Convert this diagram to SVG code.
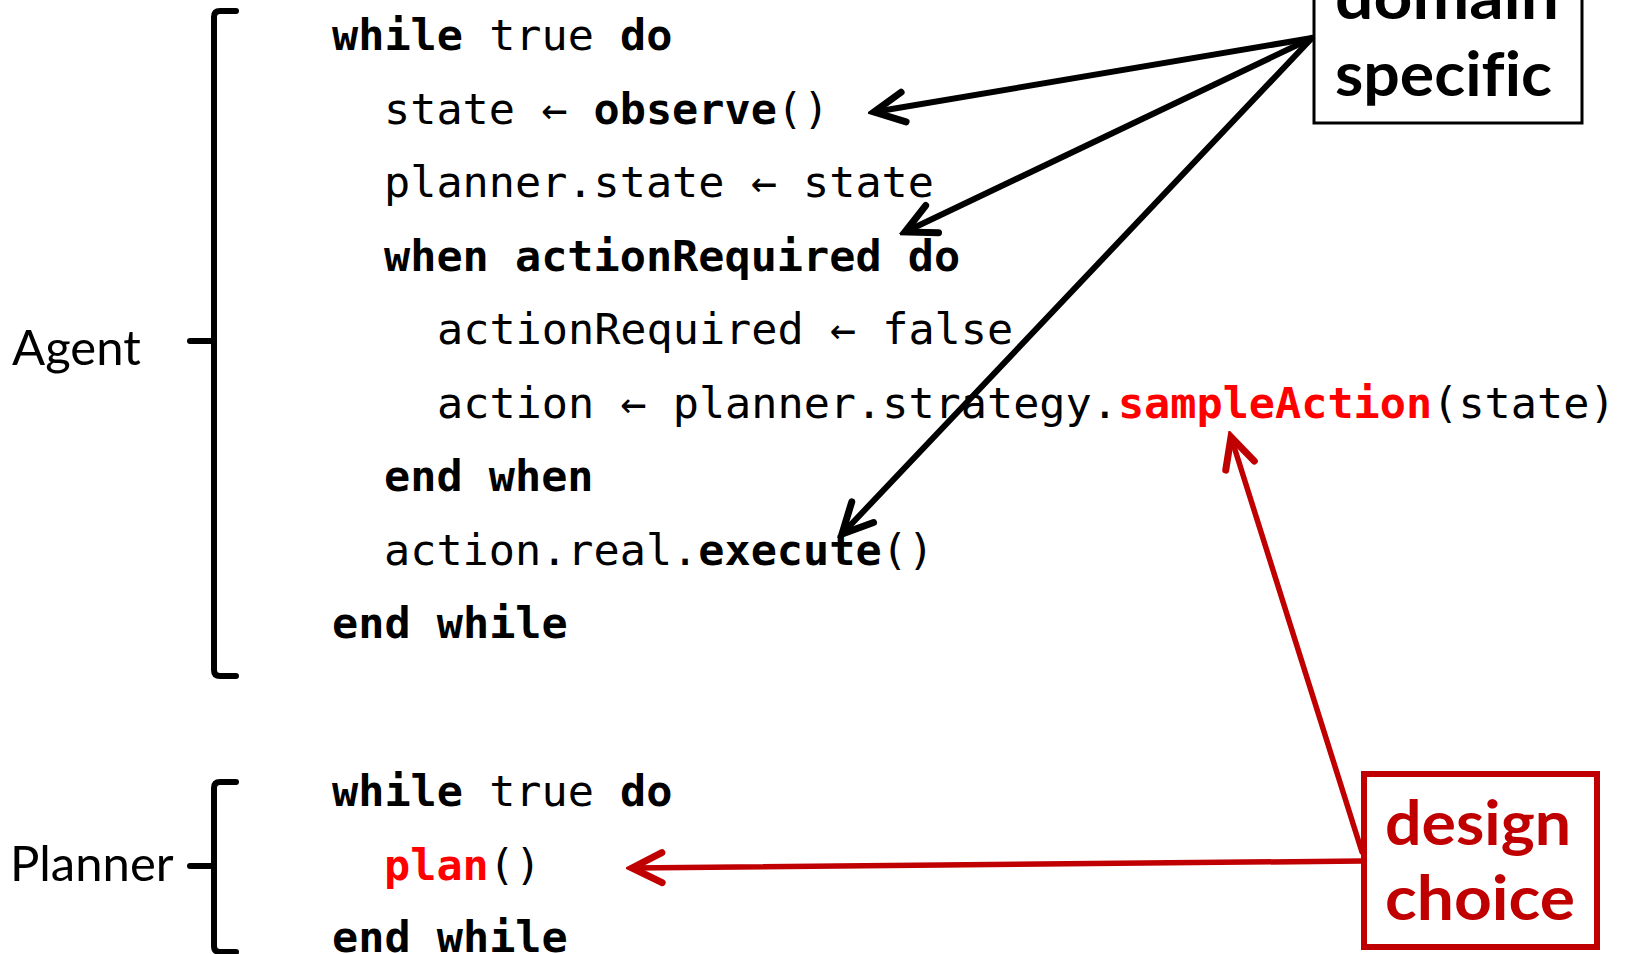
<svg xmlns="http://www.w3.org/2000/svg" width="1635" height="954" viewBox="0 0 1635 954">
  <defs>
    <style>
      .code { font-family: "DejaVu Sans Mono", "Liberation Mono", monospace; font-size: 43.5px; fill: #000; }
      .b { font-weight: bold; }
      .hl { font-weight: bold; fill: #FF0000; }
      .label { font-family: Lato, "Open Sans", "Liberation Sans", sans-serif; font-size: 49px; fill: #000; }
      .note { font-family: Lato, "Open Sans", "Liberation Sans", sans-serif; font-size: 61px; font-weight: bold; font-variant-ligatures: none; }
      .brace { fill: none; stroke: #000; stroke-width: 6; stroke-linecap: round; stroke-linejoin: round; }
      .arrow-k { fill: none; stroke: #000; stroke-width: 6; stroke-linecap: round; }
      .arrow-r { fill: none; stroke: #C00000; stroke-width: 5.5; stroke-linecap: round; }
    </style>
    <marker id="head-k" viewBox="-36 -20 42 40" refX="0" refY="0" markerWidth="42" markerHeight="40" markerUnits="userSpaceOnUse" orient="auto">
      <path d="M -30 -15 L 0 0 L -30 15" fill="none" stroke="#000" stroke-width="7" stroke-linecap="round" stroke-linejoin="miter"/>
    </marker>
    <marker id="head-r" viewBox="-36 -20 42 40" refX="0" refY="0" markerWidth="42" markerHeight="40" markerUnits="userSpaceOnUse" orient="auto">
      <path d="M -30 -15 L 0 0 L -30 15" fill="none" stroke="#C00000" stroke-width="7" stroke-linecap="round" stroke-linejoin="miter"/>
    </marker>
  </defs>

  <rect width="1635" height="954" fill="#fff"/>

  <!-- Agent loop -->
  <g id="agent">
    <text class="label" x="12" y="365">Agent</text>
    <path class="brace" d="M 236 11 L 220 11 Q 214 11 214 17 L 214 670 Q 214 676 220 676 L 236 676"/>
    <path class="brace" d="M 190 341 L 214 341" stroke-width="8"/>
    <text class="code" x="332" y="50"><tspan class="b">while</tspan> true <tspan class="b">do</tspan></text>
    <text class="code" x="384" y="123.6">state ← <tspan class="b">observe</tspan>()</text>
    <text class="code" x="384" y="197">planner.state ← state</text>
    <text class="code b" x="384" y="270.6">when actionRequired do</text>
    <text class="code" x="437" y="344">actionRequired ← false</text>
    <text class="code" x="437" y="417.6">action ← planner.strategy.<tspan class="hl">sampleAction</tspan>(state)</text>
    <text class="code b" x="384" y="491">end when</text>
    <text class="code" x="384" y="564.6">action.real.<tspan class="b">execute</tspan>()</text>
    <text class="code b" x="332" y="638">end while</text>
  </g>

  <!-- Planner loop -->
  <g id="planner">
    <text class="label" x="10" y="881">Planner</text>
    <path class="brace" d="M 236 782 L 220 782 Q 214 782 214 788 L 214 946 Q 214 952 220 952 L 236 952"/>
    <path class="brace" d="M 190 866 L 214 866" stroke-width="8"/>
    <text class="code" x="332" y="806"><tspan class="b">while</tspan> true <tspan class="b">do</tspan></text>
    <text class="code" x="384" y="880"><tspan class="hl">plan</tspan>()</text>
    <text class="code b" x="332" y="952">end while</text>
  </g>

  <!-- domain specific note -->
  <g id="domain-specific">
    <rect x="1314" y="-60" width="268" height="183" fill="#fff" stroke="#000" stroke-width="3"/>
    <text class="note" x="1335" y="19" fill="#000" textLength="224" lengthAdjust="spacingAndGlyphs">domain</text>
    <text class="note" x="1335" y="96" fill="#000" textLength="217" lengthAdjust="spacingAndGlyphs">specific</text>
  </g>

  <!-- design choice note -->
  <g id="design-choice">
    <rect x="1364" y="774" width="233" height="173" fill="#fff" stroke="#C00000" stroke-width="6"/>
    <text class="note" x="1385" y="845" fill="#C00000" textLength="186" lengthAdjust="spacingAndGlyphs">design</text>
    <text class="note" x="1385" y="920" fill="#C00000" textLength="190" lengthAdjust="spacingAndGlyphs">choice</text>
  </g>

  <!-- connectors -->
  <g id="connectors">
    <line class="arrow-k" x1="1312" y1="38" x2="874" y2="112" marker-end="url(#head-k)"/>
    <line class="arrow-k" x1="1312" y1="38" x2="905" y2="232" marker-end="url(#head-k)"/>
    <line class="arrow-k" x1="1312" y1="38" x2="842" y2="534" marker-end="url(#head-k)"/>
    <line class="arrow-r" x1="1362" y1="852" x2="1231" y2="437" marker-end="url(#head-r)"/>
    <line class="arrow-r" x1="1362" y1="861" x2="632" y2="868" marker-end="url(#head-r)"/>
  </g>
</svg>
